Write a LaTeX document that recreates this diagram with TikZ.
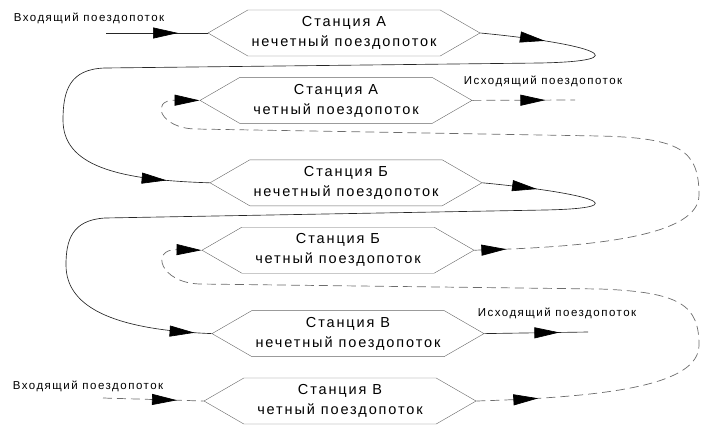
\documentclass[tikz,border=0pt]{standalone}
\usepackage{fontspec}
\setmainfont[LetterSpace=13]{Liberation Sans}
\usetikzlibrary{arrows.meta, positioning, shapes.symbols, decorations.markings}

\tikzset{
    station/.style={draw=gray!80!black, signal, signal to=east and west, signal pointer angle=60,
        minimum width=272pt, minimum height=46pt, inner sep=0pt, align=center,
        font=\fontsize{14.5}{20}\selectfont},
    flowlabel/.style={inner sep=0pt, font=\fontsize{11.5}{13}\selectfont},
    oddline/.style={draw=black!85, line width=0.65pt},
    evenline/.style={draw=gray!85!black, line width=0.7pt, dash pattern=on 9pt off 5pt},
    arrowat/.style={postaction={decorate, decoration={markings, mark=at position #1 with {\arrow{>}}}}}
}

\begin{document}
\begin{tikzpicture}[x=1pt, y=-1pt, >={Triangle[length=25pt, width=11pt, color=black]}]
    \useasboundingbox (0,0) rectangle (703,426);

    % Станции
    \node[station] (Aodd) at (344,33) {Станция А\\нечетный поездопоток};
    \node[station, below=21pt of Aodd, xshift=-8pt] (Aeven) {Станция А\\четный поездопоток};
    \node[station, below=36pt of Aeven, xshift=10pt] (Bodd) {Станция Б\\нечетный поездопоток};
    \node[station, below=21pt of Bodd, xshift=-8pt] (Beven) {Станция Б\\четный поездопоток};
    \node[station, below=37pt of Beven, xshift=10pt] (Vodd) {Станция В\\нечетный поездопоток};
    \node[station, below=21pt of Vodd, xshift=-8pt] (Veven) {Станция В\\четный поездопоток};

    % Входы и выходы
    \coordinate (inA) at (106,33);
    \coordinate (outA) at (575,100);
    \coordinate (outV) at (588,332);
    \coordinate (inV) at (103,398);
    \node[flowlabel] (inAlbl) at (89,18) {Входящий поездопоток};
    \node[flowlabel] (outAlbl) at (543,81) {Исходящий поездопоток};
    \node[flowlabel] (outVlbl) at (557,313) {Исходящий поездопоток};
    \node[flowlabel] (inVlbl) at (88,386) {Входящий поездопоток};

    % Нечетный поездопоток
    \draw[oddline, arrowat=72pt] (inA) -- (Aodd.west);
    \draw[oddline, arrowat=65pt, arrowat=-43pt] (Aodd.east) .. controls (595,44) and (640,61) .. (540,63)
        -- (105,68) .. controls (70,69) and (63,90) .. (63,120) .. controls (63,165) and (115,180) .. (Bodd.west);
    \draw[oddline, arrowat=55pt, arrowat=-17pt] (Bodd.east) .. controls (590,193) and (640,208) .. (545,210)
        -- (105,218) .. controls (72,220) and (66,240) .. (66,265) .. controls (66,310) and (120,330) .. (Vodd.west);
    \draw[oddline, arrowat=75pt] (Vodd.east) -- (outV);

    % Четный поездопоток
    \draw[evenline, arrowat=74pt] (inV) -- (Veven.west);
    \draw[evenline, arrowat=62pt, ->] (Veven.east) .. controls (610,397) and (699,385) .. (699,345)
        .. controls (699,305) and (680,292) .. (600,289) -- (200,284) .. controls (160,283) and (150,249) .. (Beven.west);
    \draw[evenline, arrowat=32pt, ->] (Beven.east) .. controls (600,247) and (699,235) .. (699,195)
        .. controls (699,150) and (680,138) .. (600,136) -- (195,129) .. controls (160,128) and (150,100) .. (Aeven.west);
    \draw[evenline, arrowat=73pt] (Aeven.east) -- (outA);
\end{tikzpicture}
\end{document}
